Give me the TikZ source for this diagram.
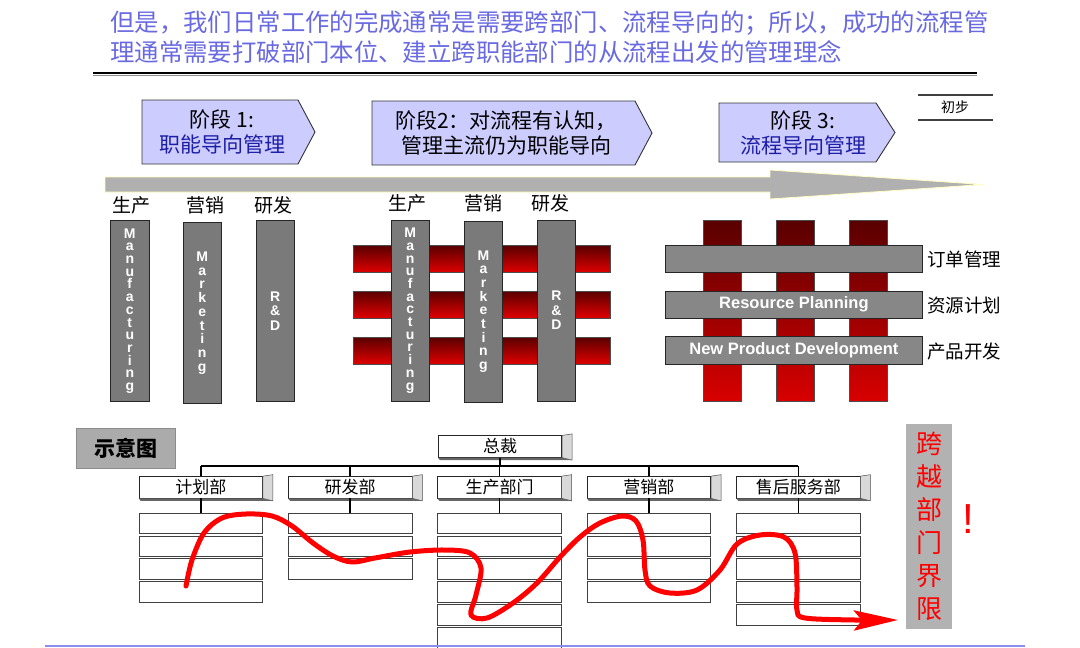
\documentclass[tikz,border=0pt]{standalone}
\usepackage{fontspec}
\setmainfont{Liberation Sans}
\newfontfamily\cjk{Noto Sans CJK SC}
\usetikzlibrary{positioning,arrows.meta,calc}

\definecolor{headblue}{RGB}{105,105,225}
\definecolor{stagefill}{RGB}{204,204,255}
\definecolor{stageblue}{RGB}{30,30,165}
\definecolor{bargray}{RGB}{122,122,122}
\definecolor{rulegray}{RGB}{176,176,176}
\definecolor{baseblue}{RGB}{140,140,240}

% 3D edge on the org boxes
\newcommand\deptbevel[1]{%
  \fill[black!60] (#1.south west) -- (#1.south east) -- ($(#1.south east)+(10,2.5)$) -- ($(#1.south west)+(2,2.5)$) -- cycle;
  \filldraw[fill=black!15, draw=black!70, line width=0.5pt] (#1.north east) -- ($(#1.north east)+(10,-1.5)$) -- ($(#1.south east)+(10,2.5)$) -- (#1.south east) -- cycle;}

\begin{document}
\begin{tikzpicture}[
    x=1pt, y=-1pt,
    headline/.style={anchor=base west, inner sep=0pt, text=headblue, font=\cjk\fontsize{24.4}{30}\selectfont},
    stagebox/.style={draw=black!80, line width=0.9pt, fill=stagefill},
    stagetxt/.style={align=center, inner sep=0pt, font=\cjk\fontsize{21}{25}\selectfont},
    collbl/.style={inner sep=0pt, font=\cjk\fontsize{19}{22}\selectfont},
    vbar/.style={draw=black!85, line width=0.8pt, fill=bargray, minimum width=38.3pt, minimum height=181pt, inner sep=0pt, text=white, align=center, font=\bfseries\fontsize{14}{12.7}\selectfont},
    hbar/.style={draw=black!85, line width=0.8pt, fill=bargray!90!white, minimum width=257.7pt, minimum height=27.5pt, inner sep=0pt, text=white, font=\bfseries\fontsize{16.5}{18}\selectfont},
    redband/.style={draw=black!70, line width=0.6pt, top color=red!35!black, bottom color=red!88!black},
    sidelbl/.style={anchor=west, inner sep=0pt, font=\cjk\fontsize{18.5}{22}\selectfont},
    tagbox/.style={draw=black!45, fill=black!33, minimum width=99pt, minimum height=40pt, font=\cjk\bfseries\fontsize{21}{24}\selectfont},
    dept/.style={draw=black!85, line width=0.7pt, fill=white, minimum width=123.5pt, minimum height=21.5pt, inner sep=0pt, font=\cjk\fontsize{17}{20}\selectfont},
    subbox/.style={draw=black!75, line width=0.7pt, fill=white, minimum width=123.5pt, minimum height=20.5pt, inner sep=0pt},
    orgline/.style={black, line width=1.6pt},
    flowline/.style={red, line width=5pt, line cap=round, line join=round},
    crossbox/.style={fill=black!30, minimum width=46pt, minimum height=205pt, inner sep=0pt, align=center, text=red, font=\cjk\fontsize{26}{33}\selectfont}
]
\useasboundingbox (0,0) rectangle (1080,648);

% --- Heading ---
\node[headline] (head1) at (110,31) {但是，我们日常工作的完成通常是需要跨部门、流程导向的；所以，成功的流程管};
\node[headline] (head2) at (110,61) {理通常需要打破部门本位、建立跨职能部门的从流程出发的管理理念};
\draw[black, line width=2pt] (93,72.5) -- (977,72.5);
\draw[black!45, line width=1.5pt] (93,75.5) -- (977,75.5);

% --- Stages ---
\draw[stagebox] (142,100) -- (298,100) -- (315,132) -- (298,164) -- (142,164) -- cycle;
\draw[stagebox] (372,101) -- (635,101) -- (652,133) -- (635,165) -- (372,165) -- cycle;
\draw[stagebox] (719,103) -- (876,103) -- (895,132.5) -- (876,162) -- (719,162) -- cycle;
\node[stagetxt] (st1) at (222,132) {阶段 1:\\\textcolor{stageblue}{职能导向管理}};
\node[stagetxt] (st2) at (506,133) {阶段2：对流程有认知，\\管理主流仍为职能导向};
\node[stagetxt] (st3) at (803,132.5) {阶段 3:\\\textcolor{stageblue}{流程导向管理}};

% --- Progress arrow ---
\filldraw[fill=rulegray, draw=yellow!25, line width=0.8pt]
    (105,177) -- (770,177) -- (770,170) -- (983,184.5) -- (770,199) -- (770,192) -- (105,192) -- cycle;

% --- Tag top right ---
\draw[black!75, line width=1.3pt] (918,95) -- (993,95);
\draw[black!75, line width=1.3pt] (918,120) -- (993,120);
\node[inner sep=0pt, font=\cjk\fontsize{14}{16}\selectfont] (tag) at (955,107) {初步};

% --- Stage 1: functional silos ---
\node[collbl] (lblA1) at (131,205) {生产};
\node[collbl] (lblA2) at (205,205) {营销};
\node[collbl] (lblA3) at (273,205) {研发};
\node[vbar] (mfgA) at (129.8,311) {M\\a\\n\\u\\f\\a\\c\\t\\u\\r\\i\\n\\g};
\node[vbar, font=\bfseries\fontsize{14}{13.7}\selectfont] (mktA) at (202.2,313) {M\\a\\r\\k\\e\\t\\i\\n\\g};
\node[vbar, font=\bfseries\fontsize{14}{14.5}\selectfont] (rndA) at (275.2,311) {R\\\&\\D};

% --- Stage 2: processes behind the silos ---
\node[collbl] (lblB1) at (407,203) {生产};
\node[collbl] (lblB2) at (483,203) {营销};
\node[collbl] (lblB3) at (550,203) {研发};
\foreach \yt/\yb in {245.5/272.5, 291/318, 337/364}
    \shade[redband] (353,\yt) rectangle (610.5,\yb);
\node[vbar] (mfgB) at (410.2,310.5) {M\\a\\n\\u\\f\\a\\c\\t\\u\\r\\i\\n\\g};
\node[vbar, font=\bfseries\fontsize{14}{13.7}\selectfont] (mktB) at (483.5,311.5) {M\\a\\r\\k\\e\\t\\i\\n\\g};
\node[vbar, font=\bfseries\fontsize{14}{14.5}\selectfont] (rndB) at (556.5,310.5) {R\\\&\\D};

% --- Stage 3: processes in front ---
\foreach \xl/\xr in {703.3/741.7, 776/814.3, 849/887.3}
    \shade[redband, top color=red!35!black, bottom color=red!85!black] (\xl,220.7) rectangle (\xr,401.7);
\node[hbar] (order) at (793.9,258.9) {};
\node[hbar] (plan)  at (793.9,304.7) {Resource Planning};
\node[hbar] (npd)   at (793.9,350.4) {New Product Development};
\node[sidelbl] (lblOrder) at (927,259) {订单管理};
\node[sidelbl] (lblPlan)  at (927,305) {资源计划};
\node[sidelbl] (lblNpd)   at (927,351) {产品开发};

% --- Sketch ---
\node[tagbox] (sketch) at (125.5,448.3) {示意图};

% --- Org chart ---
\coordinate (bus) at (500,466);
\node[dept] (ceo) at (500,446.5) {总裁};
\deptbevel{ceo}
\foreach \i/\dname/\n in {0/计划部/4, 1/研发部/3, 2/生产部门/6, 3/营销部/4, 4/售后服务部/5} {
    \pgfmathsetmacro\cx{200.75+149.4*\i}
    \node[dept] (d\i) at (\cx,487.25) {\dname};
    \deptbevel{d\i}
    \foreach \k in {1,...,\n}
        \node[subbox] (d\i-\k) at (\cx,{523.2+22.9*(\k-1)}) {};
    \draw[orgline] (d\i.south) -- (d\i-1.north);
    \draw[orgline] (d\i.north) -- (d\i.north |- bus);
}
\draw[orgline] (d0.north |- bus) -- (d4.north |- bus);
\draw[orgline] (ceo.south) -- (bus);

% --- Cross-department flow ---
\draw[flowline, -{Stealth[length=44pt, width=20pt, inset=8pt]}] plot[smooth, tension=0.55] coordinates {
    (186,586) (192,560) (204,533) (222,518) (246,514) (272,516) (292,526) (313,543)
    (333,556) (352,562) (375,558) (410,552) (445,550) (470,553) (481,568) (476,595)
    (471,615) (487,618) (513,603) (537,583) (560,557) (580,537) (600,523) (622,516)
    (636,521) (643,540) (645,570) (650,586) (670,593) (697,590) (720,570) (737,544)
    (760,535) (784,537) (795,553) (797,587) (797,610) (805,618) (855,620) (898,620)};

\node[crossbox] (cross) at (929,526.5) {跨\\越\\部\\门\\界\\限};
\node[inner sep=0pt, text=red, font=\fontsize{42}{42}\selectfont] (bang) at (968,519) {!};

% --- Base rule ---
\draw[baseblue, line width=2.5pt] (45,646) -- (1025,646);

\end{tikzpicture}
\end{document}
